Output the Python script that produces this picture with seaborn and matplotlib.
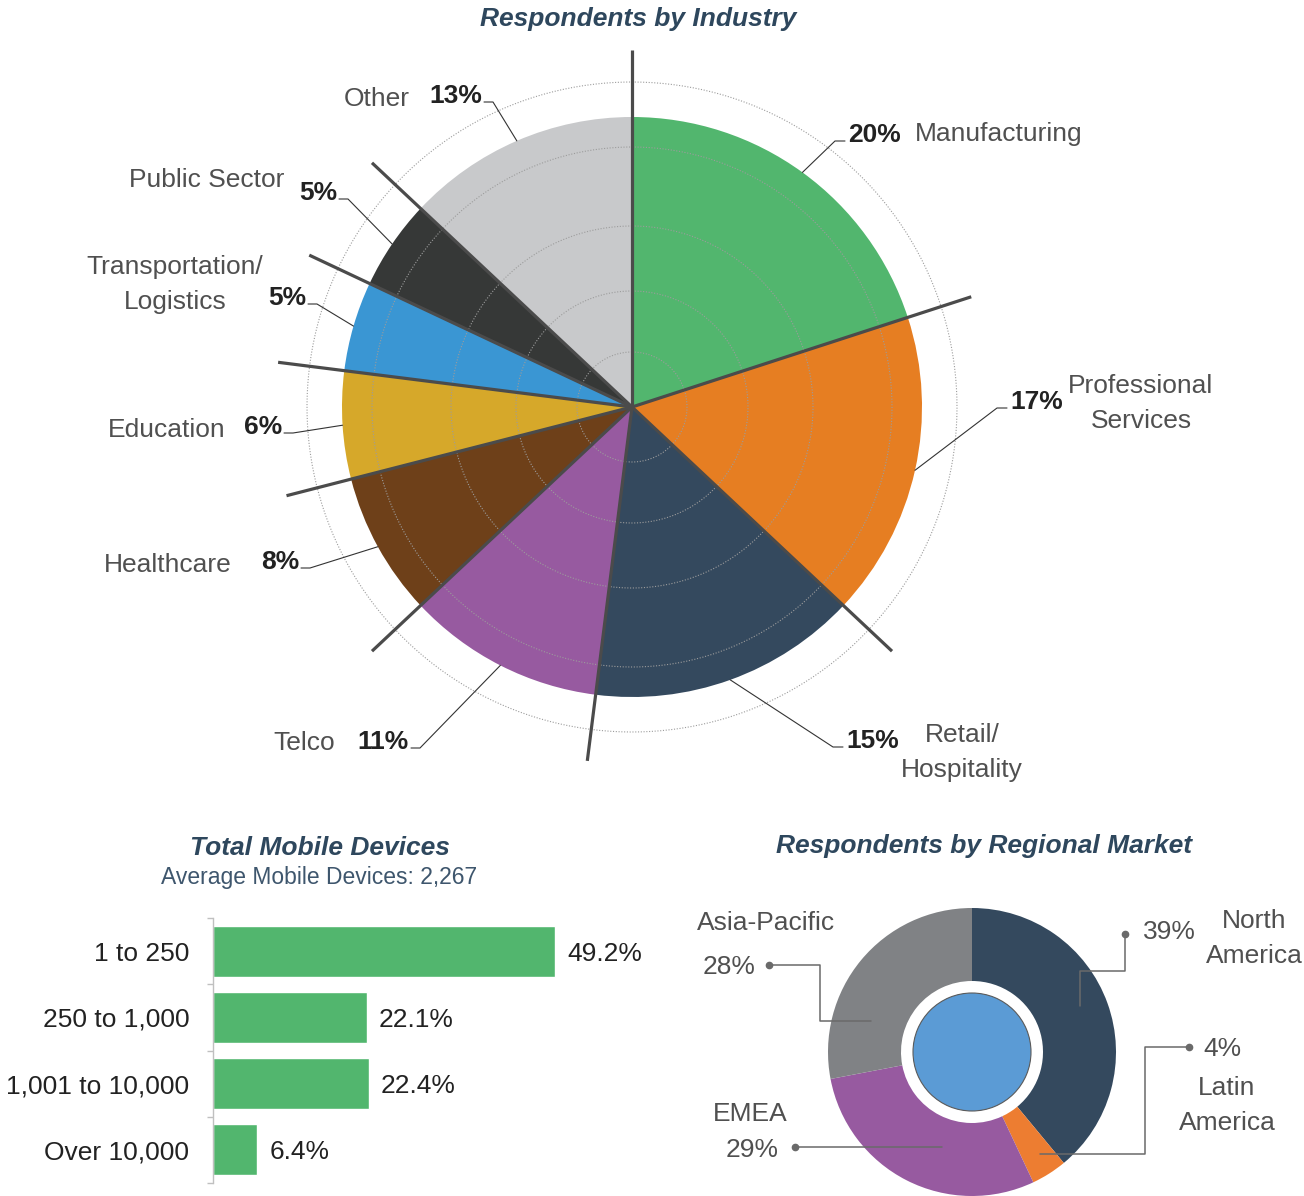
import numpy as np
import matplotlib
matplotlib.use("Agg")
import matplotlib.pyplot as plt
import seaborn as sns

# ---- data ----
industries = ["Manufacturing", "Professional\nServices", "Retail/\nHospitality", "Telco",
              "Healthcare", "Education", "Transportation/\nLogistics", "Public Sector", "Other"]
industry_pct = [20, 17, 15, 11, 8, 6, 5, 5, 13]
industry_colors = ["#52b66e", "#e67e22", "#34495e", "#975aa0", "#6e4019",
                   "#d6a82a", "#3a96d3", "#363837", "#c8c9cb"]

device_bins = ["1 to 250", "250 to 1,000", "1,001 to 10,000", "Over 10,000"]
device_pct = [49.2, 22.1, 22.4, 6.4]

regions = ["North\nAmerica", "Latin\nAmerica", "EMEA", "Asia-Pacific"]
region_pct = [39, 4, 29, 28]
region_colors = ["#34495e", "#ed7d31", "#975aa0", "#808285"]

# ---- label layout (pixels, origin top-left) ----
ind_elbow = [(835, 141), (997, 408), (833, 747), (420, 748), (310, 568),
             (293, 433), (317, 304), (348, 199), (493, 102)]
ind_side = ["r", "r", "r", "l", "l", "l", "l", "l", "l"]
ind_name_pos = [(915, 141, "left"), (1141, 428, "center"), (962, 777, "center"),
                (335, 750, "right"), (232, 572, "right"), (225, 437, "right"),
                (175, 309, "center"), (284, 187, "right"), (410, 106, "right")]

reg_leaders = [[(1080, 1006), (1080, 971), (1125, 971), (1125, 934)],
               [(1040, 1154), (1145, 1154), (1145, 1047), (1189, 1047)],
               [(942, 1147), (795, 1147)],
               [(871, 1021), (820, 1021), (820, 965), (769, 965)]]
reg_pct_pos = [(1143, 939, "left"), (1203, 1056, "left"), (779, 1157, "right"), (755, 974, "right")]
reg_name_pos = [(1254, 963, "center"), (1227, 1130, "center"), (750, 1121, "center"), (766, 930, "center")]

TITLE_C = "#2e475d"
NAME_C = "#505050"
PCT_C = "#222222"

sns.set_theme(style="white")
plt.rcParams["font.family"] = ["Liberation Sans", "DejaVu Sans"]

W, H = 1304, 1196
fig = plt.figure(figsize=(W / 100, H / 100), dpi=100)


def box(left, top, width, height):
    return [left / W, 1 - (top + height) / H, width / W, height / H]


# ---- industry pie ----
R_PX = 290
axp = fig.add_axes(box(632 - 380, 407 - 380, 760, 760), projection="polar")
axp.set_theta_zero_location("N")
axp.set_theta_direction(-1)
fracs = np.array(industry_pct) / sum(industry_pct) * 2 * np.pi
starts = np.concatenate([[0], np.cumsum(fracs)[:-1]])
axp.bar(starts, 1.0, width=fracs, align="edge", color=industry_colors, linewidth=0, zorder=2)
ring = np.linspace(0, 2 * np.pi, 600)
for r in [55, 116, 181, 260, 325]:
    axp.plot(ring, np.full_like(ring, r / R_PX), ls=(0, (1, 1.5)), color="#9c9c9c", lw=0.8, zorder=3)
for t in starts:
    axp.plot([t, t], [0, 1.23], color="#4b4b4b", lw=2.3, zorder=4, solid_capstyle="butt")
axp.set_ylim(0, 380 / R_PX)
axp.set_xticks([])
axp.set_yticks([])
axp.grid(False)
axp.spines["polar"].set_visible(False)
axp.set_facecolor("none")

# ---- overlay for text and leaders ----
ov = fig.add_axes([0, 0, 1, 1], zorder=10)
ov.set_xlim(0, W)
ov.set_ylim(H, 0)
ov.axis("off")

inv = ov.transData.inverted()
for i, name in enumerate(industries):
    mid = starts[i] + fracs[i] / 2
    sx, sy = inv.transform(axp.transData.transform((mid, 1.0)))
    ex, ey = ind_elbow[i]
    hx = ex + 10 if ind_side[i] == "r" else ex - 9
    ov.plot([sx, ex, hx], [sy, ey, ey], color="#333333", lw=0.8)
    if ind_side[i] == "r":
        ov.text(hx + 3, ey + 1, f"{industry_pct[i]}%", ha="left", va="baseline",
                fontsize=19, fontweight="bold", color=PCT_C)
    else:
        ov.text(hx - 2, ey + 1, f"{industry_pct[i]}%", ha="right", va="baseline",
                fontsize=19, fontweight="bold", color=PCT_C)
    nx, ny, ha = ind_name_pos[i]
    ov.text(nx, ny, name, ha=ha, va="baseline", fontsize=19, color=NAME_C, linespacing=1.58)

ov.text(638, 26, "Respondents by Industry", ha="center", va="baseline", fontsize=19,
        fontweight="bold", fontstyle="italic", color=TITLE_C)

# ---- bar chart ----
axb = fig.add_axes(box(213, 918, 447, 265))
sns.barplot(x=device_pct, y=device_bins, orient="h", color="#52b66e", saturation=1,
            width=0.77, ax=axb)
axb.set_xlim(0, 447 / 6.95)
axb.set_ylim(3.5, -0.5)
axb.set_xticks([])
axb.set_xlabel("")
axb.set_ylabel("")
for s in ["top", "right", "bottom"]:
    axb.spines[s].set_visible(False)
axb.spines["left"].set_color("#c0c0c0")
axb.spines["left"].set_linewidth(1)
axb.set_yticks([-0.5, 0.5, 1.5, 2.5, 3.5], minor=True)
axb.tick_params(axis="y", which="major", length=0, pad=17, labelsize=19, labelcolor=PCT_C)
axb.tick_params(axis="y", which="minor", left=True, length=4.5, color="#c0c0c0", width=1)
for lbl in axb.bar_label(axb.containers[0], labels=[f"{v}%" for v in device_pct], padding=8.6,
                         fontsize=19, color=PCT_C):
    lbl.set_va("center_baseline")
axb.set_facecolor("none")

ov.text(320, 855, "Total Mobile Devices", ha="center", va="baseline", fontsize=19,
        fontweight="bold", fontstyle="italic", color=TITLE_C)
ov.text(319, 884, "Average Mobile Devices: 2,267", ha="center", va="baseline", fontsize=16.5,
        color="#3e566d")

# ---- donut ----
axd = fig.add_axes(box(972 - 150, 1052 - 150, 300, 300))
axd.pie(region_pct, colors=region_colors, startangle=90, counterclock=False, radius=1,
        wedgeprops=dict(width=73 / 144, linewidth=0))
axd.pie([1], colors=["#5b9bd5"], radius=59 / 144,
        wedgeprops=dict(edgecolor="#5a5a5a", linewidth=0.8))
lim = 150 / 144
axd.set_xlim(-lim, lim)
axd.set_ylim(-lim, lim)
axd.set_aspect("equal")

for i, name in enumerate(regions):
    xs, ys = zip(*reg_leaders[i])
    ov.plot(xs, ys, color="#6a6a6a", lw=1.1)
    ov.plot(xs[-1], ys[-1], "o", color="#6a6a6a", ms=4.5)
    px, py, pha = reg_pct_pos[i]
    ov.text(px, py, f"{region_pct[i]}%", ha=pha, va="baseline", fontsize=19, color=NAME_C)
    nx, ny, nha = reg_name_pos[i]
    ov.text(nx, ny, name, ha=nha, va="baseline", fontsize=19, color=NAME_C, linespacing=1.58)

ov.text(984, 853, "Respondents by Regional Market", ha="center", va="baseline", fontsize=19,
        fontweight="bold", fontstyle="italic", color=TITLE_C)

fig.savefig("out.png", dpi=100)
